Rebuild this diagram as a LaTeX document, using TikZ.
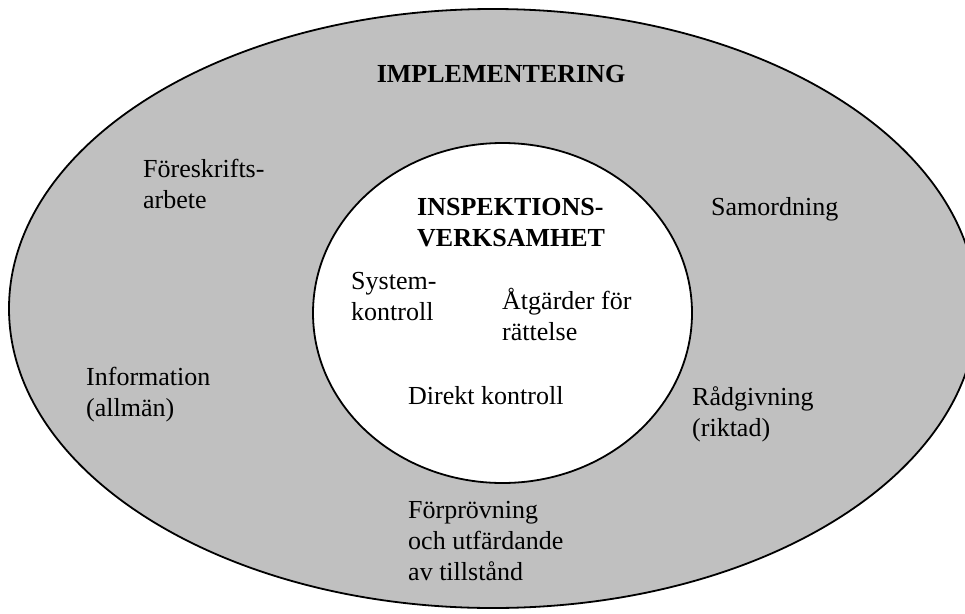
\documentclass[tikz,border=0pt]{standalone}
\usepackage{fontspec}
\setmainfont{Liberation Serif}
\begin{document}
\begin{tikzpicture}[x=1pt,y=-1pt,
  lbl/.style={inner sep=0pt, anchor=base west, align=left, font=\fontsize{26}{31}\selectfont},
  ttl/.style={lbl, font=\fontsize{26}{31}\selectfont\bfseries},
  ring/.style={draw=black, line width=1.8pt}]
\useasboundingbox (0,0) rectangle (965,613);
\begin{scope}
\clip (0,0) rectangle (965,613);
\draw[ring, fill={rgb,255:red,192;green,192;blue,192}] (493,308.5) ellipse [x radius=484, y radius=299.5];
\end{scope}
\draw[ring, fill=white] (502.5,313) ellipse [x radius=189.5, y radius=170];
\node[ttl, anchor=base] (impl) at (501,82) {IMPLEMENTERING};
\node[lbl] (fores) at (143,208) {Föreskrifts-\\arbete};
\node[ttl] (insp) at (417,246) {INSPEKTIONS-\\VERKSAMHET};
\node[lbl] (samo) at (711,215) {Samordning};
\node[lbl] (syst) at (351,320) {System-\\kontroll};
\node[lbl] (atg) at (502,340) {Åtgärder för\\rättelse};
\node[lbl] (info) at (86,416) {Information\\(allmän)};
\node[lbl] (dir) at (408,404) {Direkt kontroll};
\node[lbl] (rad) at (692,436) {Rådgivning\\(riktad)};
\node[lbl] (forp) at (408,580) {Förprövning\\och utfärdande\\av tillstånd};
\end{tikzpicture}
\end{document}
